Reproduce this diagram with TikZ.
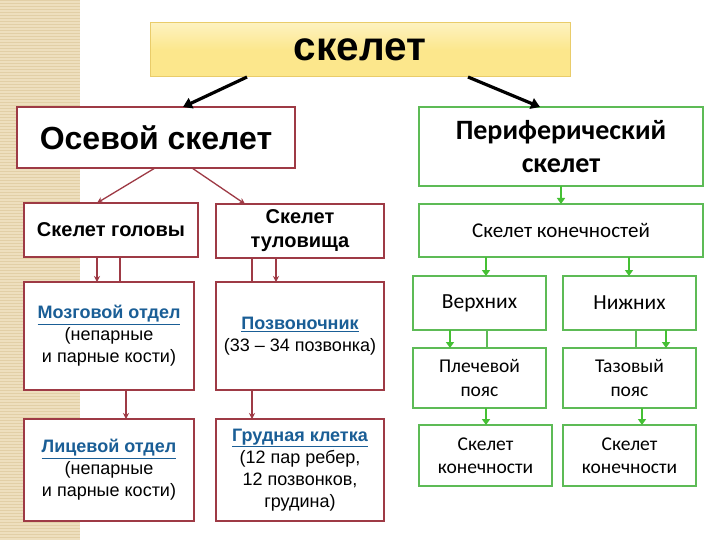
\documentclass[tikz,border=0pt]{standalone}
\usepackage{fontspec}
\setmainfont{Liberation Sans}
\newfontfamily\calfont{Carlito}
\usetikzlibrary{arrows.meta}
\definecolor{rb}{HTML}{9E3A45}
\definecolor{gb}{HTML}{5DBB56}
\definecolor{ga}{HTML}{45C034}
\definecolor{bl}{HTML}{1A5E96}
\definecolor{beige}{HTML}{EEDFBE}
\definecolor{beige2}{HTML}{E2CFA6}
\definecolor{yel}{HTML}{FCE78C}
\definecolor{yelb}{HTML}{E9CC6A}
\tikzset{
  base/.style={inner sep=0pt, outer sep=0pt, align=center, fill=white},
  rbox/.style={base, draw=rb, line width=1.8pt},
  gbox/.style={base, draw=gb, line width=2pt},
  rarr/.style={draw=rb, line width=1.3pt, -{Stealth[length=6pt,width=6pt]}},
  rline/.style={draw=rb, line width=1.3pt},
  garr/.style={draw=ga, line width=2.4pt, -{Triangle[length=6pt,width=8pt]}},
  gline/.style={draw=gb, line width=2pt},
  karr/.style={draw=black, line width=3.2pt, -{Triangle[length=9pt,width=11pt]}},
  rtxt/.style={font=\fontsize{18}{22}\selectfont},
  gtxt/.style={font=\calfont\fontsize{19.5}{23.5}\selectfont}
}
\newcommand{\bu}[1]{\textcolor{bl}{\underline{\bfseries #1}}}
\begin{document}
\begin{tikzpicture}[x=1pt,y=-1pt]
\useasboundingbox (0,0) rectangle (720,540);
\fill[white] (0,0) rectangle (720,540);
\fill[beige] (0,0) rectangle (80,540);
\foreach \yy in {0,3,...,540} { \draw[beige2, line width=0.6pt] (0,\yy) -- (80,\yy); }

% top
\node[base, draw=yelb, line width=1pt, top color=yel!55, bottom color=yel, middle color=yel, minimum width=420pt, minimum height=54pt, font=\fontsize{40.5}{42}\selectfont\bfseries] (top) at (360,50) {скелет};

% level 1
\node[rbox, minimum width=278pt, minimum height=61pt, font=\fontsize{32}{34}\selectfont\bfseries] (osev) at (156,137.5) {Осевой скелет};
\node[gbox, minimum width=284pt, minimum height=79pt, font=\calfont\fontsize{28}{33}\selectfont\bfseries] (per) at (561,146.5) {Периферический\\скелет};

\draw[karr] (247,0 |- top.south) -- (183,0 |- osev.north);
\draw[karr] (468,0 |- top.south) -- (540,0 |- per.north);

% left level 2
\node[rbox, minimum width=174pt, minimum height=54pt, font=\fontsize{20}{22}\selectfont\bfseries] (head) at (111,230) {Скелет головы};
\node[rbox, minimum width=168pt, minimum height=54pt, font=\fontsize{20}{24}\selectfont\bfseries] (trunk) at (300,231) {Скелет\\туловища};
\draw[rarr] (155,0 |- osev.south) -- (97,0 |- head.north);
\draw[rarr] (192,0 |- osev.south) -- (245,0 |- trunk.north);

% left level 3
\node[rbox, rtxt, minimum width=170pt, minimum height=108pt] (mozg) at (109,336) {\bu{Мозговой отдел}\\(непарные\\и парные кости)};
\node[rbox, rtxt, minimum width=168pt, minimum height=108pt] (pozv) at (300,336) {\bu{Позвоночник}\\(33 – 34 позвонка)};
\draw[rarr] (97,0 |- head.south) -- (97,0 |- mozg.north);
\draw[rline] (120,0 |- head.south) -- (120,0 |- mozg.north);
\draw[rline] (252,0 |- trunk.south) -- (252,0 |- pozv.north);
\draw[rarr] (276,0 |- trunk.south) -- (276,0 |- pozv.north);

% left level 4
\node[rbox, rtxt, minimum width=170pt, minimum height=102pt] (lic) at (109,470) {\bu{Лицевой отдел}\\(непарные\\и парные кости)};
\node[rbox, rtxt, minimum width=168pt, minimum height=102pt] (grud) at (300,470) {\bu{Грудная клетка}\\(12 пар ребер,\\12 позвонков,\\грудина)};
\draw[rarr] (126,0 |- mozg.south) -- (126,0 |- lic.north);
\draw[rarr] (252,0 |- pozv.south) -- (252,0 |- grud.north);

% right
\node[gbox, minimum width=284pt, minimum height=53pt, font=\calfont\fontsize{21}{24}\selectfont] (kon) at (561,230.5) {Скелет конечностей};
\draw[garr] (per.south) -- (kon.north);

\node[gbox, minimum width=133pt, minimum height=54pt, font=\calfont\fontsize{21.5}{24}\selectfont] (verh) at (479.5,303) {Верхних};
\node[gbox, minimum width=133pt, minimum height=54pt, font=\calfont\fontsize{21.5}{24}\selectfont] (nizh) at (629.5,303) {Нижних};
\draw[garr] (486,0 |- kon.south) -- (486,0 |- verh.north);
\draw[garr] (629,0 |- kon.south) -- (629,0 |- nizh.north);

\node[gbox, gtxt, minimum width=133pt, minimum height=60pt] (plech) at (479.5,378) {Плечевой\\пояс};
\node[gbox, gtxt, minimum width=133pt, minimum height=60pt] (taz) at (629.5,378) {Тазовый\\пояс};
\draw[garr] (450,0 |- verh.south) -- (450,0 |- plech.north);
\draw[gline] (487,0 |- verh.south) -- (487,0 |- plech.north);
\draw[gline] (636,0 |- nizh.south) -- (636,0 |- taz.north);
\draw[garr] (666,0 |- nizh.south) -- (666,0 |- taz.north);

\node[gbox, gtxt, minimum width=133pt, minimum height=61pt] (sk1) at (485.5,455.5) {Скелет\\конечности};
\node[gbox, gtxt, minimum width=133pt, minimum height=61pt] (sk2) at (629.5,455.5) {Скелет\\конечности};
\draw[garr] (486,0 |- plech.south) -- (486,0 |- sk1.north);
\draw[garr] (642,0 |- taz.south) -- (642,0 |- sk2.north);
\end{tikzpicture}
\end{document}
